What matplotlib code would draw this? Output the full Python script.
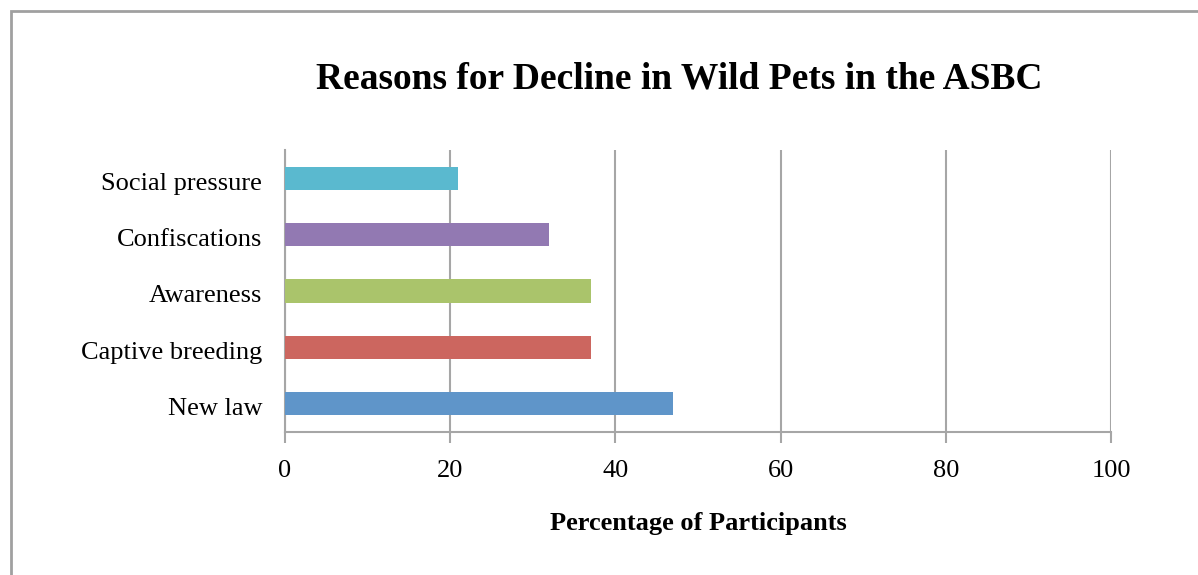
import matplotlib.pyplot as plt
import matplotlib.transforms as mtransforms
from matplotlib.patches import Rectangle

# Reasons for decline (bottom to top as drawn)
razoes = ['New law', 'Captive breeding', 'Awareness', 'Confiscations', 'Social pressure']
percentuais = [47, 37, 37, 32, 21]
cores = ['#5F95C9', '#CC665F', '#AAC46B', '#9279B2', '#5AB9CF']
ticks_x = [0, 20, 40, 60, 80, 100]

plt.rcParams['font.family'] = ['Liberation Serif', 'DejaVu Serif']

fig = plt.figure(figsize=(11.98, 5.75), dpi=100)
ax = fig.add_axes([285 / 1198, 1 - 432 / 575, 826 / 1198, 282 / 575])

ax.barh(razoes, percentuais, height=0.41, color=cores, zorder=3)

ax.set_xlim(0, 100)
ax.set_ylim(-0.5, 4.5)
ax.set_xticks(ticks_x)
ax.tick_params(axis='x', length=8, width=1.5, color='#A6A6A6', labelsize=19, pad=12)
ax.tick_params(axis='y', length=0, labelsize=19, pad=16.5)
ax.grid(axis='x', color='#A6A6A6', linewidth=1.5, zorder=0)

# category labels sit a little below the bar centre
desloc = mtransforms.ScaledTranslation(0, -3 / 100, fig.dpi_scale_trans)
for rotulo in ax.get_yticklabels():
    rotulo.set_transform(rotulo.get_transform() + desloc)

for lado in ['top', 'right']:
    ax.spines[lado].set_visible(False)
for lado in ['left', 'bottom']:
    ax.spines[lado].set_color('#A6A6A6')
    ax.spines[lado].set_linewidth(1.5)

ax.set_xlabel('Percentage of Participants', fontsize=19, fontweight='bold', labelpad=22)

fig.text(679 / 1198, 1 - 79 / 575, 'Reasons for Decline in Wild Pets in the ASBC',
         ha='center', va='center', fontsize=27, fontweight='bold')

# chart area frame
fig.add_artist(Rectangle((11 / 1198, -0.1), 1.2, 1 - 11 / 575 + 0.1,
                         transform=fig.transFigure, fill=False,
                         edgecolor='#A0A0A0', linewidth=2))

fig.savefig('out.png', dpi=100, facecolor='white')
